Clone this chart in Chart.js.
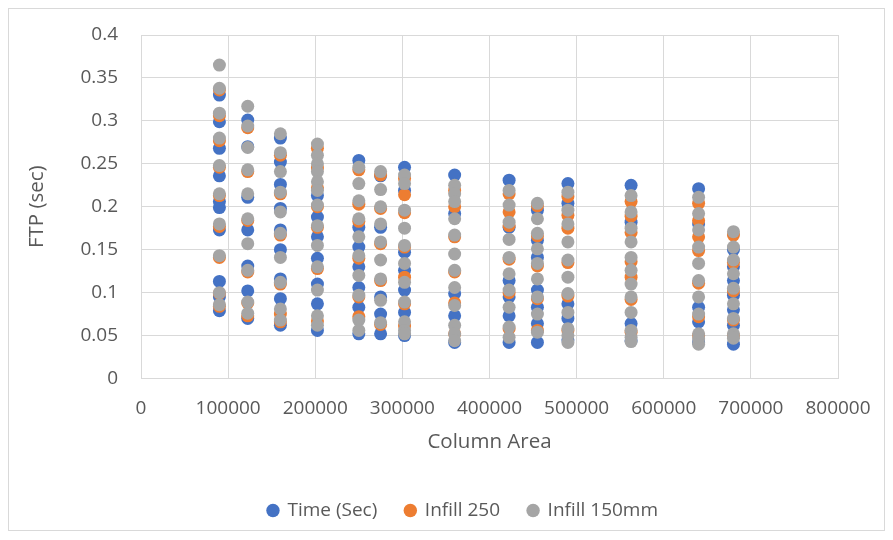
<!DOCTYPE html>
<html>
<head>
<meta charset="utf-8">
<script src="https://cdn.jsdelivr.net/npm/chart.js@4/dist/chart.umd.min.js"></script>
<style>
  html, body { margin: 0; padding: 0; background: #fff; }
  #wrap { width: 893px; height: 540px; }
</style>
</head>
<body>
<div id="wrap"><canvas id="chart" width="893" height="540"></canvas></div>
<script>
"use strict";

// column areas (x positions of the vertical strips)
const columnArea = [90000, 122500, 160000, 202500, 250000, 275000, 302500,
  360000, 422500, 455000, 490000, 562500, 640000, 680000];

const seriesNames = ["Time (Sec)", "Infill 250", "Infill 150mm"];

// FTP values per column, one inner list per column area
const timeSec = [
  [0.330, 0.299, 0.268, 0.236, 0.206, 0.199, 0.173, 0.113, 0.095, 0.079],
  [0.301, 0.270, 0.211, 0.173, 0.131, 0.102, 0.070],
  [0.280, 0.252, 0.226, 0.198, 0.173, 0.150, 0.116, 0.093, 0.062],
  [0.213, 0.188, 0.165, 0.140, 0.110, 0.087, 0.056],
  [0.254, 0.176, 0.153, 0.130, 0.106, 0.083, 0.052],
  [0.236, 0.176, 0.095, 0.075, 0.052],
  [0.246, 0.219, 0.147, 0.126, 0.103, 0.077, 0.050],
  [0.237, 0.192, 0.099, 0.073, 0.042],
  [0.231, 0.176, 0.114, 0.095, 0.073, 0.042],
  [0.196, 0.161, 0.141, 0.103, 0.083, 0.064, 0.042],
  [0.227, 0.204, 0.087, 0.070, 0.045],
  [0.225, 0.182, 0.064, 0.044],
  [0.221, 0.180, 0.083, 0.066, 0.042],
  [0.150, 0.130, 0.114, 0.097, 0.080, 0.062, 0.040]
];

const infill250 = [
  [0.336, 0.306, 0.277, 0.246, 0.213, 0.177, 0.141, 0.099, 0.084],
  [0.292, 0.241, 0.184, 0.124, 0.088, 0.073],
  [0.260, 0.215, 0.167, 0.110, 0.075, 0.066],
  [0.268, 0.245, 0.222, 0.200, 0.176, 0.128, 0.067],
  [0.243, 0.203, 0.183, 0.140, 0.095, 0.072],
  [0.237, 0.198, 0.157, 0.114, 0.063],
  [0.233, 0.214, 0.193, 0.153, 0.118, 0.087, 0.061],
  [0.219, 0.200, 0.165, 0.124, 0.088, 0.052],
  [0.215, 0.194, 0.178, 0.139, 0.100, 0.058],
  [0.201, 0.166, 0.131, 0.093, 0.056],
  [0.212, 0.190, 0.175, 0.135, 0.096, 0.056],
  [0.206, 0.189, 0.170, 0.136, 0.118, 0.092, 0.054],
  [0.204, 0.184, 0.165, 0.149, 0.111, 0.072, 0.050],
  [0.167, 0.135, 0.102, 0.068, 0.050]
];

const infill150 = [
  [0.365, 0.338, 0.309, 0.280, 0.248, 0.215, 0.180, 0.143, 0.100, 0.086],
  [0.317, 0.294, 0.269, 0.243, 0.215, 0.186, 0.157, 0.126, 0.089, 0.076],
  [0.285, 0.263, 0.241, 0.217, 0.194, 0.169, 0.141, 0.112, 0.081, 0.068],
  [0.273, 0.260, 0.250, 0.241, 0.229, 0.219, 0.202, 0.178, 0.155, 0.130, 0.103, 0.073, 0.062],
  [0.246, 0.227, 0.207, 0.186, 0.165, 0.143, 0.120, 0.097, 0.068, 0.056],
  [0.241, 0.220, 0.200, 0.180, 0.159, 0.138, 0.116, 0.091, 0.065],
  [0.237, 0.227, 0.196, 0.175, 0.155, 0.134, 0.112, 0.089, 0.066, 0.056, 0.052],
  [0.225, 0.215, 0.206, 0.186, 0.167, 0.145, 0.126, 0.106, 0.085, 0.062, 0.052, 0.044],
  [0.219, 0.202, 0.182, 0.162, 0.141, 0.122, 0.103, 0.083, 0.060, 0.048],
  [0.204, 0.186, 0.169, 0.151, 0.134, 0.116, 0.095, 0.075, 0.054],
  [0.217, 0.196, 0.180, 0.159, 0.138, 0.118, 0.099, 0.077, 0.058, 0.050, 0.042],
  [0.213, 0.194, 0.175, 0.159, 0.141, 0.126, 0.110, 0.095, 0.077, 0.056, 0.048, 0.043],
  [0.211, 0.192, 0.173, 0.153, 0.134, 0.114, 0.095, 0.075, 0.052, 0.046, 0.040],
  [0.171, 0.153, 0.138, 0.122, 0.105, 0.087, 0.070, 0.052, 0.047]
];

const xTicks = [0, 100000, 200000, 300000, 400000, 500000, 600000, 700000, 800000];
const yTicks = [0, 0.05, 0.1, 0.15, 0.2, 0.25, 0.3, 0.35, 0.4];

function toPoints(cols) {
  const pts = [];
  cols.forEach((vals, i) => {
    vals.forEach(v => pts.push({ x: columnArea[i], y: v }));
  });
  return pts;
}

const gridColor = "#d9d9d9";
const textColor = "#595959";
const fontFamily = "'Open Sans', sans-serif";

// outer chart border like the Excel chart frame, legend nudged to the right
const frame = {
  id: "frame",
  afterLayout(chart) {
    chart.legend.left += 34;
    chart.legend.right += 34;
  },
  beforeDraw(chart) {
    const c = chart.ctx;
    c.save();
    c.fillStyle = "#fff";
    c.fillRect(0, 0, chart.width, chart.height);
    c.strokeStyle = "#d9d9d9";
    c.lineWidth = 1;
    c.strokeRect(8.5, 8.5, 876, 522);
    c.restore();
  }
};

const ctx = document.getElementById("chart").getContext("2d");

new Chart(ctx, {
  type: "scatter",
  data: {
    datasets: [
      { label: seriesNames[0], data: toPoints(timeSec), backgroundColor: "#4472c4", borderColor: "#4472c4", order: 3 },
      { label: seriesNames[1], data: toPoints(infill250), backgroundColor: "#ed7d31", borderColor: "#ed7d31", order: 2 },
      { label: seriesNames[2], data: toPoints(infill150), backgroundColor: "#a5a5a5", borderColor: "#a5a5a5", order: 1 }
    ]
  },
  options: {
    responsive: false,
    animation: false,
    elements: { point: { radius: 6.5, borderWidth: 0, hoverRadius: 6.5 } },
    layout: { padding: { left: 20, right: 55, top: 35, bottom: 10 } },
    plugins: {
      legend: {
        position: "bottom",
        labels: {
          usePointStyle: true,
          pointStyle: "circle",
          boxWidth: 10,
          boxHeight: 9.5,
          padding: 28,
          color: textColor,
          font: { size: 19, family: fontFamily },
          sort: (a, b) => a.datasetIndex - b.datasetIndex
        }
      },
      tooltip: { enabled: false }
    },
    scales: {
      x: {
        type: "linear",
        min: 0,
        max: 800000,
        afterBuildTicks: s => { s.ticks = xTicks.map(v => ({ value: v })); },
        afterFit: s => { s.height = 94.5; },
        ticks: {
          padding: 19,
          color: textColor,
          font: { size: 19, family: fontFamily },
          maxRotation: 0,
          autoSkip: false,
          callback: v => String(v)
        },
        grid: { color: gridColor, drawTicks: false },
        border: { color: gridColor },
        title: {
          display: true,
          text: "Column Area",
          color: textColor,
          font: { size: 20.5, family: fontFamily },
          padding: { top: 0, bottom: 19 }
        }
      },
      y: {
        min: 0,
        max: 0.4,
        afterBuildTicks: s => { s.ticks = yTicks.map(v => ({ value: v })); },
        afterFit: s => { s.width = 121; },
        ticks: {
          padding: 23,
          color: textColor,
          font: { size: 19, family: fontFamily },
          callback: v => String(+v.toFixed(2))
        },
        grid: { color: gridColor, drawTicks: false },
        border: { color: gridColor },
        title: {
          display: true,
          text: "FTP (sec)",
          color: textColor,
          font: { size: 20.5, family: fontFamily },
          padding: { top: 5, bottom: 0 }
        }
      }
    }
  },
  plugins: [frame]
});
</script>
</body>
</html>
